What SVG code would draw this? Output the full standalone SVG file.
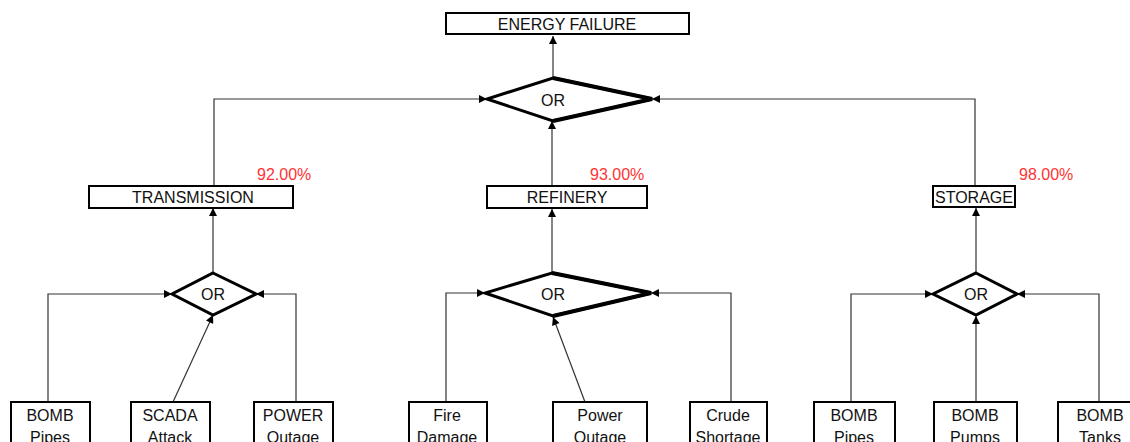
<svg xmlns="http://www.w3.org/2000/svg" width="1130" height="442" viewBox="0 0 1130 442">
<style>
text{font-family:"Liberation Sans",Arial,sans-serif;font-size:16px;fill:#111;text-anchor:middle}
.pct{fill:#ff3333;text-anchor:start}
.box{fill:#fff;stroke:#000;stroke-width:2}
.gate{fill:#fff;stroke:#000;stroke-width:3;stroke-linejoin:miter}
.thick{fill:none;stroke:#000;stroke-width:4;stroke-linejoin:miter}
.c{fill:none;stroke:#333;stroke-width:1.2;marker-end:url(#ah)}
</style>
<defs>
<marker id="ah" viewBox="0 0 10 10" refX="10" refY="5" markerWidth="9" markerHeight="8" markerUnits="userSpaceOnUse" orient="auto">
<path d="M0,0 L10,5 L0,10 z" fill="#000"/>
</marker>
</defs>
<g id="connectors">
<path class="c" d="M553,78 V36"/>
<path class="c" d="M214,185 V99 H487"/>
<path class="c" d="M552,186 V121"/>
<path class="c" d="M975,186 V99 H652"/>
<path class="c" d="M213,273 V208"/>
<path class="c" d="M48,402 V294 H172"/>
<path class="c" d="M173,402 L213,315"/>
<path class="c" d="M296,402 V294 H256"/>
<path class="c" d="M552,273 V209"/>
<path class="c" d="M446,402 V293 H485"/>
<path class="c" d="M585,402 L553,317"/>
<path class="c" d="M731,402 V293 H651"/>
<path class="c" d="M976,273 V208"/>
<path class="c" d="M851,402 V294 H933"/>
<path class="c" d="M976,402 V316"/>
<path class="c" d="M1099,402 V294 H1017"/>
</g>
<g id="energy-failure">
<rect class="box" x="446" y="13" width="243" height="21"/>
<text x="567" y="30">ENERGY FAILURE</text>
</g>
<g id="or-top">
<polygon class="gate" points="553,78 652,99 553,121 487,99"/>
<polyline class="thick" points="553,78 652,99 553,121"/>
<text x="553" y="106">OR</text>
</g>
<g id="transmission">
<rect class="box" x="89" y="186" width="204" height="22"/>
<text x="193" y="203">TRANSMISSION</text>
<text class="pct" x="257" y="180">92.00%</text>
</g>
<g id="refinery">
<rect class="box" x="487" y="186" width="160" height="22"/>
<text x="567" y="203">REFINERY</text>
<text class="pct" x="590" y="180">93.00%</text>
</g>
<g id="storage">
<rect class="box" x="933" y="186" width="82" height="21"/>
<text x="974" y="203">STORAGE</text>
<text class="pct" x="1019" y="180">98.00%</text>
</g>
<g id="or-transmission">
<polygon class="gate" points="213,273 256,294 213,315 172,294"/>
<text x="213" y="300">OR</text>
</g>
<g id="or-refinery">
<polygon class="gate" points="552,273 651,293 553,316 485,293"/>
<polyline class="thick" points="552,273 651,293 553,316"/>
<text x="553" y="300">OR</text>
</g>
<g id="or-storage">
<polygon class="gate" points="976,273 1017,294 976,315 933,294"/>
<text x="976" y="300">OR</text>
</g>
<g id="bomb-pipes-1">
<rect class="box" x="11" y="402" width="79" height="60"/>
<text x="50" y="421">BOMB</text><text x="50" y="443">Pipes</text>
</g>
<g id="scada-attack">
<rect class="box" x="131" y="402" width="79" height="60"/>
<text x="170" y="421">SCADA</text><text x="170" y="443">Attack</text>
</g>
<g id="power-outage-1">
<rect class="box" x="254" y="402" width="79" height="60"/>
<text x="293" y="421">POWER</text><text x="293" y="443">Outage</text>
</g>
<g id="fire-damage">
<rect class="box" x="409" y="402" width="78" height="60"/>
<text x="447" y="421">Fire</text><text x="447" y="443">Damage</text>
</g>
<g id="power-outage-2">
<rect class="box" x="553" y="402" width="94" height="60"/>
<text x="600" y="421">Power</text><text x="600" y="443">Outage</text>
</g>
<g id="crude-shortage">
<rect class="box" x="690" y="402" width="77" height="60"/>
<text x="728" y="421">Crude</text><text x="728" y="443">Shortage</text>
</g>
<g id="bomb-pipes-2">
<rect class="box" x="814" y="402" width="81" height="60"/>
<text x="854" y="421">BOMB</text><text x="854" y="443">Pipes</text>
</g>
<g id="bomb-pumps">
<rect class="box" x="934" y="402" width="83" height="60"/>
<text x="975" y="421">BOMB</text><text x="975" y="443">Pumps</text>
</g>
<g id="bomb-tanks">
<rect class="box" x="1058" y="402" width="86" height="60"/>
<text x="1100" y="421">BOMB</text><text x="1100" y="443">Tanks</text>
</g>
</svg>
